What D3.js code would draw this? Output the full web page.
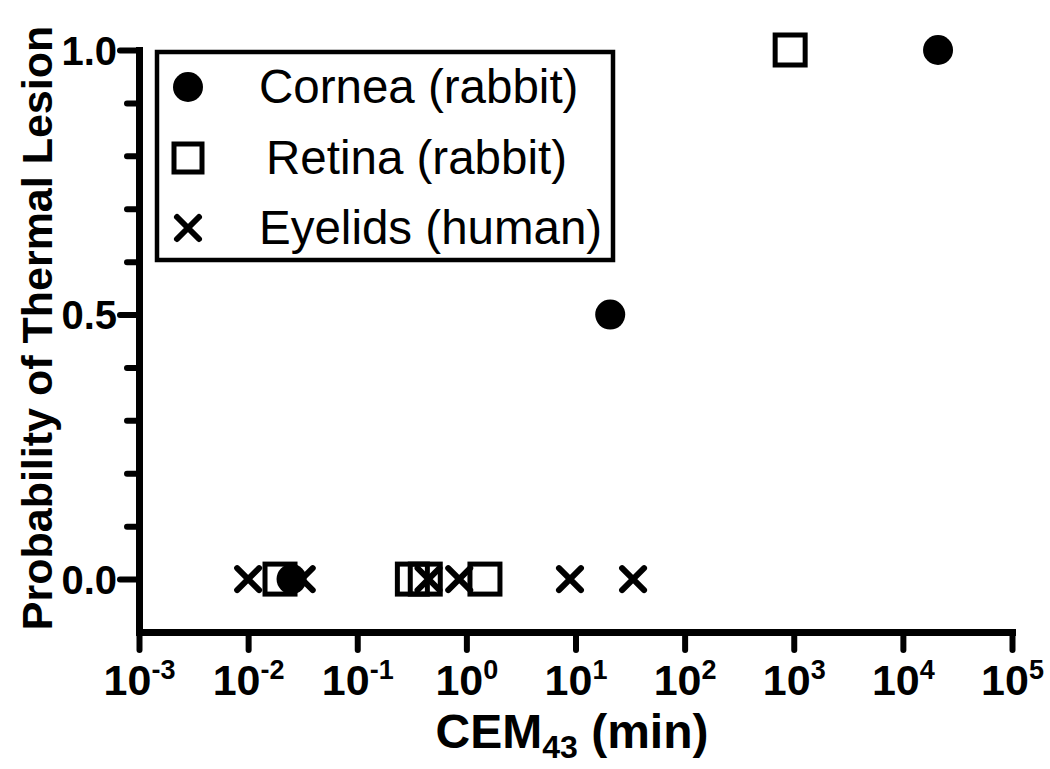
<html>
  <head>
    <meta charset="UTF-8">
    <title>Thermal lesion probability</title>
    <style>
      body { margin: 0; background: #fff; }
      text { font-family: "Liberation Sans", Arial, sans-serif; fill: #000; }
      .axis text { font-weight: bold; }
    </style>
    <script src="https://cdn.jsdelivr.net/npm/d3@7/dist/d3.min.js"></script>
  </head>
  <body>
    <script>
      // ==== Data ====
      var seriesNames = ["Cornea (rabbit)", "Retina (rabbit)", "Eyelids (human)"];

      // CEM43 (min) and probability of lesion
      var corneaCem  = [0.025, 20.8, 21000];
      var corneaProb = [0, 0.5, 1.0];

      var retinaCem  = [0.0196, 0.32, 0.42, 1.48, 927];
      var retinaProb = [0, 0, 0, 0, 1.0];

      var eyelidCem  = [0.01, 0.031, 0.45, 0.86, 8.9, 33.7];
      var eyelidProb = [0, 0, 0, 0, 0, 0];

      var xTickExps = [-3, -2, -1, 0, 1, 2, 3, 4, 5];
      var yTicks = [0, 0.5, 1.0];
      var yMinorTicks = [0.1, 0.2, 0.3, 0.4, 0.6, 0.7, 0.8, 0.9];

      /* ==== Layout ==== */
      var width = 1050, height = 769;

      var x = d3.scaleLog().domain([1e-3, 1e5]).range([139, 1012]);
      var y = d3.scaleLinear().domain([-0.1, 1.0]).range([632, 50]);

      var svg = d3.select("body").append("svg")
          .attr("width", width)
          .attr("height", height);

      function zip(xs, ys) {
          return xs.map(function(v, i) { return {x: v, y: ys[i]}; });
      }

      /* ==== Axes ==== */
      var xAxis = d3.axisBottom(x)
          .tickValues(xTickExps.map(function(e) { return Math.pow(10, e); }))
          .tickSize(18)
          .tickSizeOuter(0)
          .tickFormat(function() { return "10"; });

      var gx = svg.append("g")
          .attr("class", "axis")
          .attr("transform", "translate(0," + y.range()[0] + ")")
          .call(xAxis);

      gx.selectAll(".tick text").each(function(d, i) {
          var t = d3.select(this)
              .attr("y", 63)
              .attr("dy", 0)
              .attr("font-size", 43);
          t.append("tspan")
              .attr("dy", -16)
              .attr("font-size", 27)
              .text(xTickExps[i]);
      });

      var yAxis = d3.axisLeft(y)
          .tickValues(yTicks)
          .tickSize(19)
          .tickPadding(3)
          .tickSizeOuter(0)
          .tickFormat(d3.format(".1f"));

      var yMinor = d3.axisLeft(y)
          .tickValues(yMinorTicks)
          .tickSize(12)
          .tickSizeOuter(0)
          .tickFormat("");

      svg.append("g")
          .attr("class", "axis")
          .attr("transform", "translate(" + x.range()[0] + ",0)")
          .call(yMinor);

      var gy = svg.append("g")
          .attr("class", "axis")
          .attr("transform", "translate(" + x.range()[0] + ",0)")
          .call(yAxis);

      gy.selectAll(".tick text")
          .attr("font-size", 40)
          .attr("dy", "0.36em");

      svg.selectAll(".axis .domain")
          .attr("stroke", "#000")
          .attr("stroke-width", 7)
          .attr("stroke-linecap", "square");

      svg.selectAll(".axis .tick line")
          .attr("stroke", "#000")
          .attr("stroke-width", 6)
          .attr("stroke-linecap", "round");

      // Axis titles
      var xTitle = svg.append("text")
          .attr("x", 572)
          .attr("y", 748)
          .attr("text-anchor", "middle")
          .attr("font-weight", "bold")
          .attr("font-size", 48);
      xTitle.append("tspan").text("CEM");
      xTitle.append("tspan").attr("dy", 10).attr("font-size", 32).text("43");
      xTitle.append("tspan").attr("dy", -10).text(" (min)");

      svg.append("text")
          .attr("transform", "translate(52,328) rotate(-90)")
          .attr("text-anchor", "middle")
          .attr("font-weight", "bold")
          .attr("font-size", 43)
          .text("Probability of Thermal Lesion");

      /* ==== Markers ==== */
      var sq = 30, cr = 15, xs = 11;

      function crossPath(s) {
          return "M" + -s + "," + -s + "L" + s + "," + s +
                 "M" + -s + "," + s + "L" + s + "," + -s;
      }

      svg.append("g").selectAll("rect")
          .data(zip(retinaCem, retinaProb))
          .enter().append("rect")
          .attr("x", function(d) { return x(d.x) - sq / 2; })
          .attr("y", function(d) { return y(d.y) - sq / 2; })
          .attr("width", sq)
          .attr("height", sq)
          .attr("fill", "none")
          .attr("stroke", "#000")
          .attr("stroke-width", 5);

      svg.append("g").selectAll("circle")
          .data(zip(corneaCem, corneaProb))
          .enter().append("circle")
          .attr("cx", function(d) { return x(d.x); })
          .attr("cy", function(d) { return y(d.y); })
          .attr("r", cr)
          .attr("fill", "#000");

      svg.append("g").selectAll("path")
          .data(zip(eyelidCem, eyelidProb))
          .enter().append("path")
          .attr("transform", function(d) {
              return "translate(" + x(d.x) + "," + y(d.y) + ")";
          })
          .attr("d", crossPath(xs))
          .attr("stroke", "#000")
          .attr("stroke-width", 6)
          .attr("stroke-linecap", "round");

      /* ==== Legend ==== */
      var legend = svg.append("g");
      legend.append("rect")
          .attr("x", 157)
          .attr("y", 52)
          .attr("width", 456)
          .attr("height", 208)
          .attr("fill", "#fff")
          .attr("stroke", "#000")
          .attr("stroke-width", 4.5);

      var rowY = [87, 158, 228];
      var textX = [259, 266, 259];

      legend.append("circle")
          .attr("cx", 188).attr("cy", rowY[0]).attr("r", cr)
          .attr("fill", "#000");
      legend.append("rect")
          .attr("x", 188 - 14).attr("y", rowY[1] - 14)
          .attr("width", 28).attr("height", 28)
          .attr("fill", "none").attr("stroke", "#000").attr("stroke-width", 5);
      legend.append("path")
          .attr("transform", "translate(188," + rowY[2] + ")")
          .attr("d", crossPath(xs))
          .attr("stroke", "#000").attr("stroke-width", 6)
          .attr("stroke-linecap", "round");

      legend.selectAll("text.lab")
          .data(seriesNames)
          .enter().append("text")
          .attr("class", "lab")
          .attr("x", function(d, i) { return textX[i]; })
          .attr("y", function(d, i) { return rowY[i] + 16; })
          .attr("font-size", 47.5)
          .text(function(d) { return d; });
    </script>
  </body>
</html>
